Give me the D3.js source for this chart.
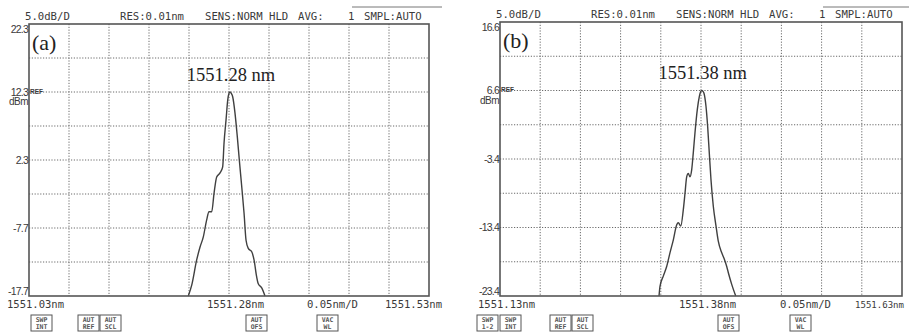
<!DOCTYPE html>
<html><head><meta charset="utf-8">
<script src="https://cdn.jsdelivr.net/npm/d3@7"></script>
<style>body{margin:0;background:#fff}svg{display:block}</style>
</head><body><svg id="c" width="909" height="335"></svg>
<script>
// ---------- data: panel (a) ----------
const wavelengthA = [1551.2291, 1551.2334, 1551.2396, 1551.2438, 1551.2479, 1551.2521, 1551.2550, 1551.2584, 1551.2613, 1551.2646, 1551.2688, 1551.2721, 1551.2738, 1551.2763, 1551.2784, 1551.2800, 1551.2813, 1551.2828, 1551.2846, 1551.2875, 1551.2904, 1551.2929, 1551.2959, 1551.2988, 1551.3013, 1551.3041, 1551.3084, 1551.3113, 1551.3146, 1551.3166, 1551.3209, 1551.3250];
const powerA = [-17.7, -16.1, -12.4, -10.5, -9.0, -6.5, -5.3, -5.3, -2.6, -0.2, 0.4, 1.3, 4.8, 8.2, 11.1, 12.1, 12.3, 12.1, 11.6, 9.2, 5.7, 2.3, -1.6, -5.5, -9.5, -10.7, -11.2, -12.4, -14.9, -15.9, -16.5, -17.7];
const xRangeA = [1551.03, 1551.53];
const yRangeA = [-17.7, 22.3];
const xTickLabelsA = ["1551.03nm", "1551.28nm", "1551.53nm"];
const yTickValuesA = [22.3, 12.3, 2.3, -7.7, -17.7];
const yTickLabelsA = ["22.3", "12.3", "2.3", "-7.7", "-17.7"];
const peakLabelA = "1551.28 nm";
const panelLabelA = "(a)";
const buttonsA = [["SWP", "INT"], ["AUT", "REF"], ["AUT", "SCL"], ["AUT", "OFS"], ["VAC", "WL"]];

// ---------- data: panel (b) ----------
const wavelengthB = [1551.3278, 1551.3290, 1551.3331, 1551.3373, 1551.3414, 1551.3456, 1551.3498, 1551.3518, 1551.3548, 1551.3580, 1551.3601, 1551.3622, 1551.3642, 1551.3663, 1551.3684, 1551.3704, 1551.3725, 1551.3754, 1551.3779, 1551.3795, 1551.3809, 1551.3823, 1551.3837, 1551.3862, 1551.3883, 1551.3903, 1551.3924, 1551.3953, 1551.3987, 1551.4015, 1551.4058, 1551.4086, 1551.4120, 1551.4140, 1551.4182, 1551.4232];
const powerB = [-23.4, -22.0, -20.5, -19.1, -17.1, -15.2, -13.0, -12.7, -13.2, -10.8, -8.4, -6.0, -5.5, -6.0, -5.0, -2.5, 0.4, 3.8, 5.7, 6.4, 6.6, 6.5, 6.2, 4.3, 1.3, -2.5, -6.4, -10.3, -13.2, -15.4, -17.1, -17.9, -19.1, -20.0, -21.7, -23.4];
const xRangeB = [1551.13, 1551.63];
const yRangeB = [-23.4, 16.6];
const xTickLabelsB = ["1551.13nm", "1551.38nm", "1551.63nm"];
const yTickValuesB = [16.6, 6.6, -3.4, -13.4, -23.4];
const yTickLabelsB = ["16.6", "6.6", "-3.4", "-13.4", "-23.4"];
const peakLabelB = "1551.38 nm";
const panelLabelB = "(b)";
const buttonsB = [["SWP", "1-2"], ["SWP", "INT"], ["AUT", "REF"], ["AUT", "SCL"], ["AUT", "OFS"], ["VAC", "WL"]];

// shared instrument text
const headerTexts = ["5.0dB/D", "RES:0.01nm", "SENS:NORM HLD", "AVG:", "1", "SMPL:AUTO"];
const spanLabel = "0.05nm/D";
const unitLabel = "dBm";
const refLabel = "REF";
const xDivisions = 10, yDivisions = 8;

// ---------- drawing ----------
const svg = d3.select("#c");
svg.append("rect").attr("width", 909).attr("height", 335).attr("fill", "#fff");
const mono = "'DejaVu Sans Mono', monospace";
const sans = "'Liberation Sans', Arial, sans-serif";
const serif = "'Liberation Serif', 'DejaVu Serif', serif";
const ink = "#3a3a3a";

function drawPanel(p) {
  const g = svg.append("g");
  const x = d3.scaleLinear().domain(p.xRange).range([p.left, p.right]);
  const y = d3.scaleLinear().domain(p.yRange).range([p.bottom, p.top]);

  // grid
  const xGrid = d3.range(1, xDivisions).map(i => p.xRange[0] + i * (p.xRange[1] - p.xRange[0]) / xDivisions);
  const yGrid = d3.range(1, yDivisions).map(i => p.yRange[0] + i * (p.yRange[1] - p.yRange[0]) / yDivisions);
  g.selectAll(".vg").data(xGrid).join("line")
    .attr("x1", d => x(d)).attr("x2", d => x(d)).attr("y1", p.top).attr("y2", p.bottom)
    .attr("stroke", "#6a6a6a").attr("stroke-width", 1).attr("stroke-dasharray", "1.2,1.6");
  g.selectAll(".hg").data(yGrid).join("line")
    .attr("y1", d => y(d)).attr("y2", d => y(d)).attr("x1", p.left).attr("x2", p.right)
    .attr("stroke", "#6a6a6a").attr("stroke-width", 1).attr("stroke-dasharray", "1.2,1.6");

  // trace
  const line = d3.line().x(d => x(d[0])).y(d => y(d[1])).curve(d3.curveMonotoneX);
  g.append("path").datum(d3.zip(p.wl, p.pw)).attr("d", line)
    .attr("fill", "none").attr("stroke", "#404040").attr("stroke-width", 1.4);

  // frame
  g.append("rect").attr("x", p.left).attr("y", p.top)
    .attr("width", p.right - p.left).attr("height", p.bottom - p.top)
    .attr("fill", "none").attr("stroke", "#555").attr("stroke-width", 1.6);

  // y labels
  g.selectAll(".yl").data(p.yVals).join("text")
    .attr("x", p.left - 1)
    .attr("y", d => Math.min(Math.max(y(d), p.top + 5), p.bottom - 5) + 3.5)
    .attr("text-anchor", "end").attr("font-family", sans).attr("font-size", 10.5)
    .attr("letter-spacing", -0.8).attr("fill", ink)
    .text((d, i) => p.yLabels[i]);
  g.append("text").attr("x", p.left - 1).attr("y", y(p.yVals[1]) + 13)
    .attr("text-anchor", "end").attr("font-family", sans).attr("font-size", 10)
    .attr("letter-spacing", -0.5).attr("fill", ink).text(unitLabel);
  g.append("text").attr("x", p.left + 1).attr("y", y(p.yVals[1]) + 1.5)
    .attr("font-family", sans).attr("font-size", 6.5).attr("font-weight", "bold").attr("fill", ink).text(refLabel);

  // header
  const hOff = [-4, 91, 176, 269, 319, 335];
  headerTexts.forEach((t, i) => {
    g.append("text").attr("x", p.left + hOff[i]).attr("y", p.top - 4)
      .attr("font-family", mono).attr("font-size", 11).attr("fill", ink)
      .attr("textLength", t.length * 6.4).attr("lengthAdjust", "spacingAndGlyphs").text(t);
  });
  g.append("line").attr("x1", p.left + 323).attr("x2", p.left + 413).attr("y1", 7).attr("y2", 7)
    .attr("stroke", "#777").attr("stroke-width", 1);

  // bottom labels
  const bx = [x(p.xRange[0]) - 22, x((p.xRange[0] + p.xRange[1]) / 2) - 22, x(p.xRange[1]) - p.lastBack];
  p.xLabels.forEach((t, i) => {
    g.append("text").attr("x", bx[i]).attr("y", p.bottom + 12)
      .attr("font-family", mono).attr("font-size", i === 2 ? p.lastSize : 11).attr("fill", ink)
      .attr("textLength", i === 2 ? p.lastLen : 57).attr("lengthAdjust", "spacingAndGlyphs").text(t);
  });
  g.append("text").attr("x", p.left + p.spanOff).attr("y", p.bottom + 12)
    .attr("font-family", mono).attr("font-size", 11).attr("fill", ink)
    .attr("textLength", 51).attr("lengthAdjust", "spacingAndGlyphs").text(spanLabel);

  // buttons
  p.buttons.forEach((b, i) => {
    const bxp = p.left + p.btnOff[i];
    const bg = g.append("g");
    bg.append("rect").attr("x", bxp).attr("y", 315).attr("width", 21).attr("height", 16)
      .attr("fill", "#fff").attr("stroke", "#555").attr("stroke-width", 1);
    b.forEach((t, j) => {
      bg.append("text").attr("x", bxp + 10.5).attr("y", 321.5 + j * 7)
        .attr("text-anchor", "middle").attr("font-family", mono).attr("font-size", 6.5)
        .attr("font-weight", "bold").attr("fill", "#555").text(t);
    });
  });

  // annotations
  g.append("text").attr("x", p.left + 3).attr("y", p.top + 26)
    .attr("font-family", serif).attr("font-size", 22).attr("fill", "#222").text(p.panelLabel);
  const peakIdx = d3.maxIndex(p.pw);
  g.append("text").attr("x", x(p.wl[peakIdx]) + 1).attr("y", p.top + 57)
    .attr("text-anchor", "middle").attr("font-family", serif).attr("font-size", 18.5)
    .attr("fill", "#222").text(p.peakLabel);
}

drawPanel({left: 29, right: 429, top: 24, bottom: 296, xRange: xRangeA, yRange: yRangeA,
  wl: wavelengthA, pw: powerA, xLabels: xTickLabelsA, yVals: yTickValuesA, yLabels: yTickLabelsA,
  peakLabel: peakLabelA, panelLabel: panelLabelA, buttons: buttonsA, spanOff: 278,
  lastLen: 57, lastBack: 44, lastSize: 11,
  btnOff: [2, 49, 71, 217, 288]});
drawPanel({left: 500, right: 902, top: 22, bottom: 296, xRange: xRangeB, yRange: yRangeB,
  wl: wavelengthB, pw: powerB, xLabels: xTickLabelsB, yVals: yTickValuesB, yLabels: yTickLabelsB,
  peakLabel: peakLabelB, panelLabel: panelLabelB, buttons: buttonsB, spanOff: 280,
  lastLen: 49, lastBack: 47, lastSize: 9.5,
  btnOff: [-23, 0, 50, 72, 218, 290]});
</script></body></html>
